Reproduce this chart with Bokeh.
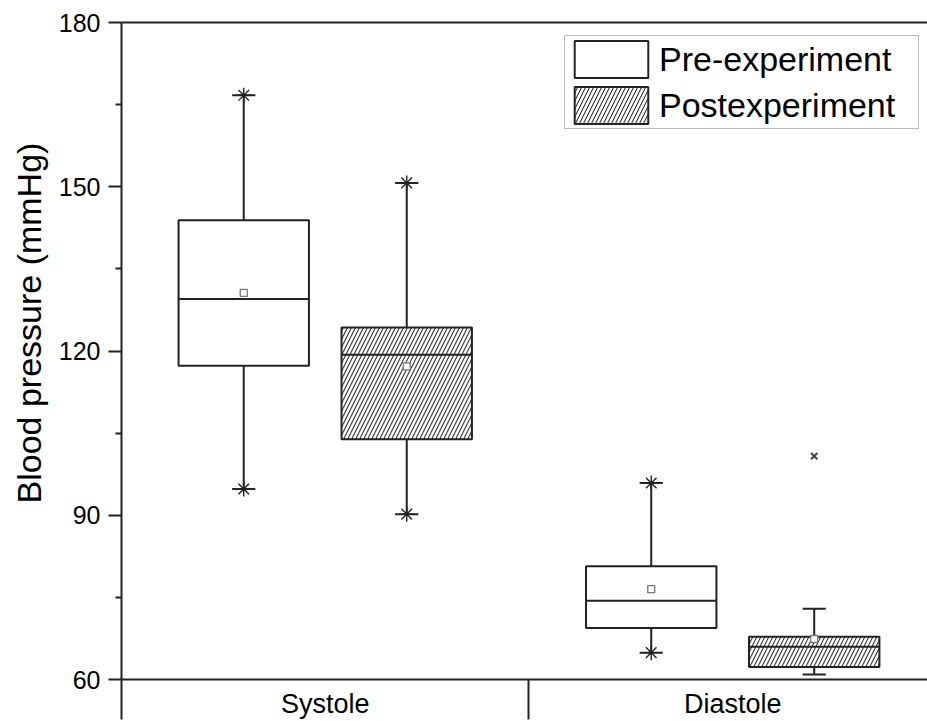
import numpy as np
from bokeh.plotting import figure
from bokeh.models import (ColumnDataSource, FixedTicker, LinearAxis, Range1d,
                          Title, Legend, LegendItem)
from bokeh.embed import file_html
from bokeh.resources import INLINE

# ---- data ----
categories = ["Systole", "Diastole"]
conditions = ["Pre-experiment", "Postexperiment"]
group_cat = [0, 0, 1, 1]          # category index of each box
group_cond = [0, 1, 0, 1]         # condition index of each box
q1 = [117.3, 103.9, 69.4, 62.3]
median = [129.5, 119.3, 74.4, 66.0]
q3 = [143.9, 124.3, 80.7, 67.8]
mean = [130.6, 117.2, 76.5, 67.4]
whisker_low = [94.8, 90.2, 64.9, 60.9]
whisker_high = [166.7, 150.7, 95.9, 72.9]
# min / max markers (asterisks) for boxes that show them
extreme_box = [0, 0, 1, 1, 2, 2]
extreme_val = [166.7, 94.8, 150.7, 90.2, 95.9, 64.9]
# outliers
outlier_box = [3]
outlier_val = [100.8]
y_ticks = [60, 90, 120, 150, 180]
y_minor = [75, 105, 135, 165]

FONT = "Liberation Sans"
INK = "#222222"

offset = 0.2
box_w = 0.32
cap_w = 0.057
xpos = [c + 0.5 + (-offset if k == 0 else offset) for c, k in zip(group_cat, group_cond)]

p = figure(width=927, height=721, output_backend="svg", toolbar_location=None,
           x_range=Range1d(0, 1.978), y_range=Range1d(60, 180),
           min_border_left=120, min_border_right=0, min_border_top=22,
           min_border_bottom=40)
p.xgrid.visible = False
p.ygrid.visible = False
p.outline_line_color = None
p.background_fill_color = "white"
p.border_fill_color = "white"

src = dict(x=xpos, q1=q1, q3=q3, med=median, mean=mean,
           lo=whisker_low, hi=whisker_high)
pre_idx = [i for i, k in enumerate(group_cond) if k == 0]
post_idx = [i for i, k in enumerate(group_cond) if k == 1]

def sub(idx):
    d = {k: [v[i] for i in idx] for k, v in src.items()}
    d["cl"] = [x - cap_w / 2 for x in d["x"]]
    d["cr"] = [x + cap_w / 2 for x in d["x"]]
    d["bl"] = [x - box_w / 2 for x in d["x"]]
    d["br"] = [x + box_w / 2 for x in d["x"]]
    return ColumnDataSource(d)

s_pre, s_post = sub(pre_idx), sub(post_idx)

# whiskers and caps
for s in (s_pre, s_post):
    p.segment(x0="x", x1="x", y0="q3", y1="hi", source=s, line_color=INK, line_width=2)
    p.segment(x0="x", x1="x", y0="lo", y1="q1", source=s, line_color=INK, line_width=2)
    p.segment(x0="cl", x1="cr", y0="hi", y1="hi", source=s, line_color=INK, line_width=2)
    p.segment(x0="cl", x1="cr", y0="lo", y1="lo", source=s, line_color=INK, line_width=2)

r_pre = p.vbar(x="x", width=box_w, bottom="q1", top="q3", source=s_pre,
               fill_color="white", line_color=INK, line_width=2)
r_post = p.vbar(x="x", width=box_w, bottom="q1", top="q3", source=s_post,
                fill_color="white", line_color=INK, line_width=2,
                hatch_pattern="right_diagonal_line", hatch_color="#333333",
                hatch_scale=8, hatch_weight=1.1)

for s in (s_pre, s_post):
    p.segment(x0="bl", x1="br", y0="med", y1="med", source=s, line_color=INK, line_width=2)
    p.scatter(x="x", y="mean", source=s, marker="square", size=7,
              fill_color="white", line_color="#777777", line_width=1.3)

# extreme markers
p.scatter(x=[xpos[i] for i in extreme_box], y=extreme_val, marker="asterisk",
          size=15, line_color=INK, line_width=1.4)
# outliers
p.scatter(x=[xpos[i] for i in outlier_box], y=outlier_val, marker="x",
          size=9, line_color="#444444", line_width=2)

# y axis
ya = p.yaxis[0]
ya.ticker = FixedTicker(ticks=y_ticks, minor_ticks=y_minor)
ya.major_tick_in = 0
ya.major_tick_out = 13
ya.minor_tick_in = 0
ya.minor_tick_out = 6
ya.axis_line_width = 2
ya.major_tick_line_width = 2
ya.minor_tick_line_width = 2
ya.axis_line_color = INK
ya.major_tick_line_color = INK
ya.minor_tick_line_color = INK
ya.major_label_text_font = FONT
ya.major_label_text_font_size = "25px"
ya.major_label_text_color = "black"
ya.major_label_standoff = 8

# x axis
xa = p.xaxis[0]
xa.ticker = FixedTicker(ticks=[0.5, 1.5], minor_ticks=[0, 1, 2])
xa.major_label_overrides = {0.5: categories[0], 1.5: categories[1]}
xa.major_tick_in = 0
xa.major_tick_out = 0
xa.minor_tick_in = 0
xa.minor_tick_out = 40
xa.axis_line_width = 2
xa.minor_tick_line_width = 2
xa.axis_line_color = INK
xa.minor_tick_line_color = INK
xa.major_label_text_font = FONT
xa.major_label_text_font_size = "27px"
xa.major_label_text_color = "black"
xa.major_label_standoff = -31

# top line
top = LinearAxis(ticker=FixedTicker(ticks=[]), major_label_text_font_size="0px",
                 axis_line_width=2, axis_line_color=INK, major_tick_line_color=None,
                 minor_tick_line_color=None)
p.add_layout(top, "above")

# y title
p.add_layout(Title(text="Blood pressure (mmHg)", align="left", offset=176,
                   text_font=FONT, text_font_size="34px", text_color="black",
                   text_font_style="normal", standoff=15), "left")

legend = Legend(items=[LegendItem(label=conditions[0], renderers=[r_pre]),
                       LegendItem(label=conditions[1], renderers=[r_post])],
                location=(443, 550), glyph_width=92, glyph_height=46,
                label_height=46, label_width=259, spacing=-5, padding=0, margin=0,
                label_standoff=2, label_text_font=FONT,
                label_text_font_size="34px", label_text_color="black",
                border_line_color="#777777", border_line_width=1.5,
                background_fill_alpha=1.0)
p.add_layout(legend)

open("out.html", "w").write(file_html(p, INLINE))
